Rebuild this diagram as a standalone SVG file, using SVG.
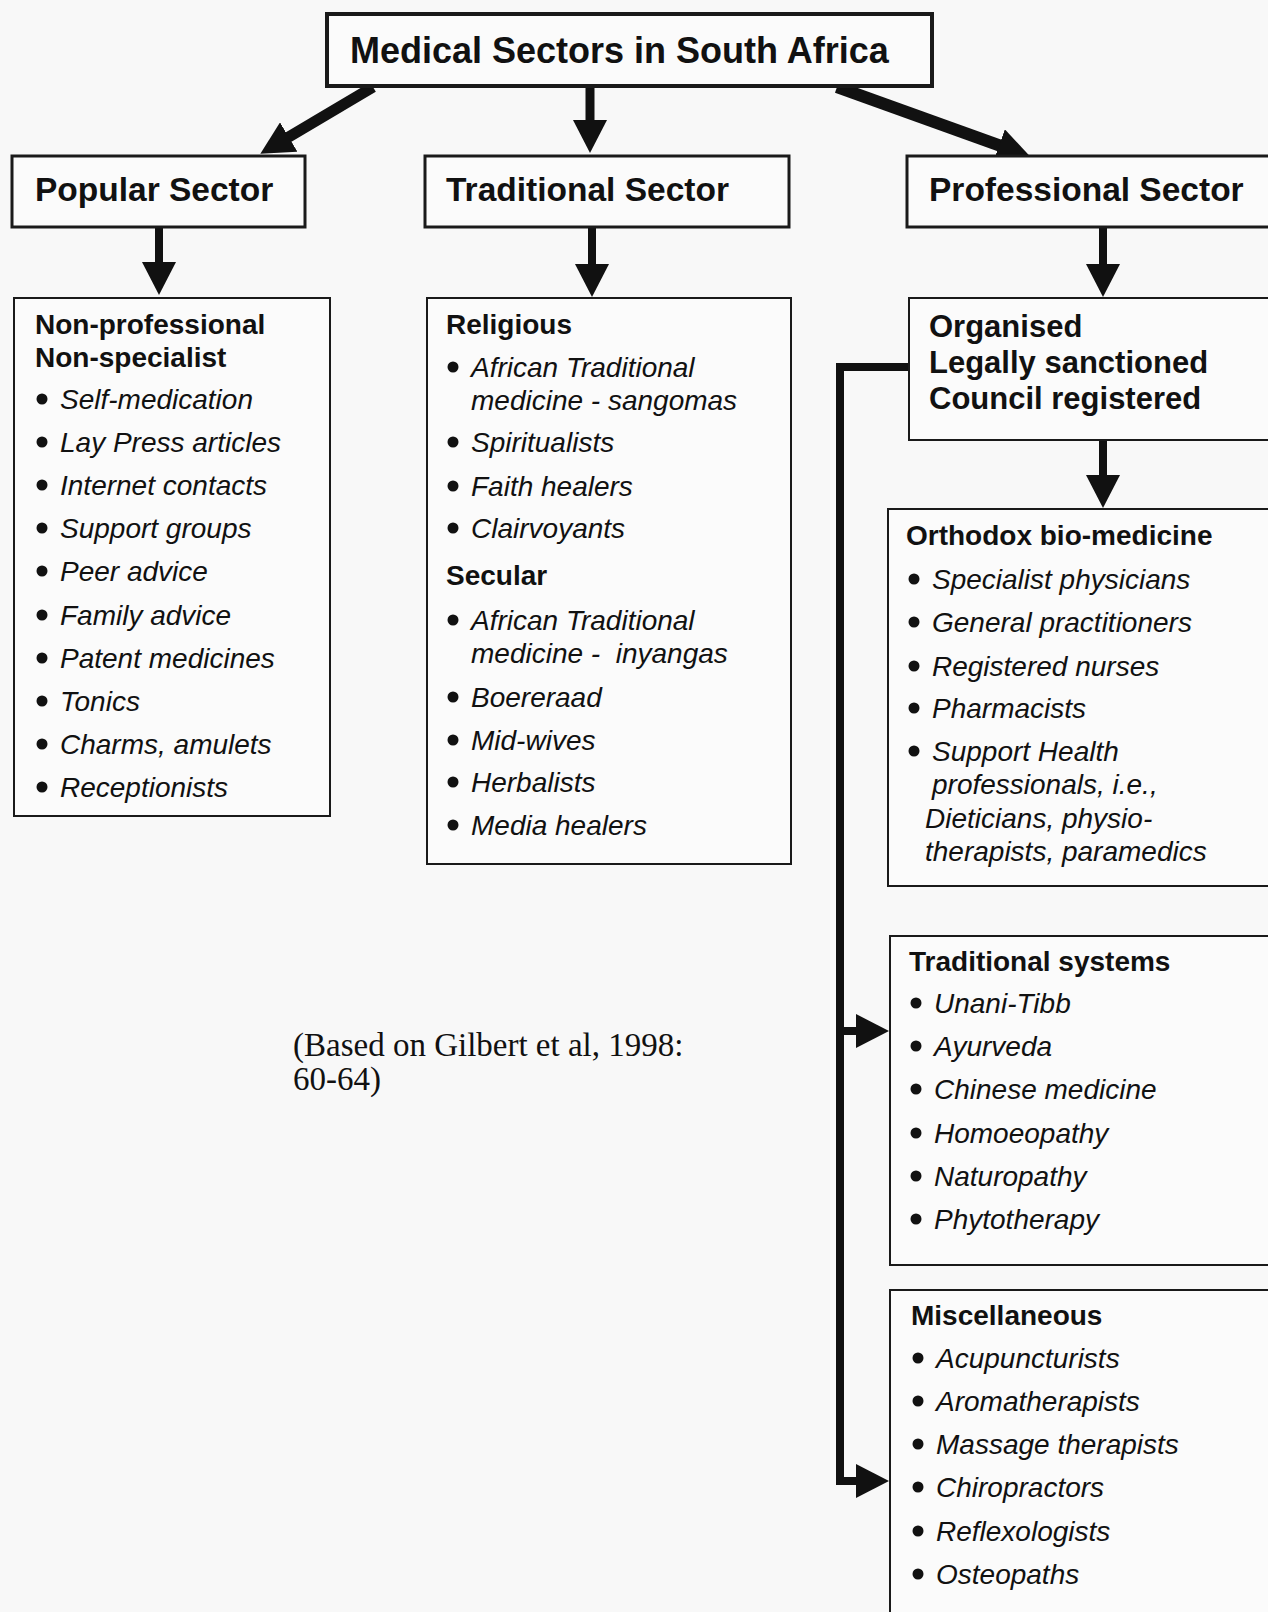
<svg xmlns="http://www.w3.org/2000/svg" width="1268" height="1612" viewBox="0 0 1268 1612">
<style>
.bg{fill:#f8f8f8}
.box{fill:#fbfbfb;stroke:#1a1a1a}
.b4{stroke-width:4}
.b3{stroke-width:3}
.b2{stroke-width:2}
text{font-family:"Liberation Sans",Arial,sans-serif;fill:#111}
.title{font-size:36px;font-weight:bold}
.sec{font-size:33.5px;font-weight:bold}
.h{font-size:28px;font-weight:bold}
.h31{font-size:31px;font-weight:bold}
.i{font-size:28px;font-style:italic}
.cite{font-family:"Liberation Serif","Times New Roman",serif;font-size:33px}
.dot{fill:#111}
.conn{fill:none;stroke:#111;stroke-linejoin:miter}
</style>
<defs>
<marker id="ah" markerUnits="userSpaceOnUse" markerWidth="34" markerHeight="34" refX="2" refY="17" orient="auto">
<path d="M0,0 L33,17 L0,34 z" fill="#111"/>
</marker>
</defs>
<rect class="bg" x="0" y="0" width="1268" height="1612"/>

<g id="connectors">
<path class="conn" stroke-width="11" d="M373,87 L287,138" marker-end="url(#ah)"/>
<path class="conn" stroke-width="9" d="M590,86 L590,122" marker-end="url(#ah)"/>
<path class="conn" stroke-width="12" d="M837,87 L1001,146" marker-end="url(#ah)"/>
<path class="conn" stroke-width="8" d="M159,227 L159,264" marker-end="url(#ah)"/>
<path class="conn" stroke-width="8" d="M592,227 L592,266" marker-end="url(#ah)"/>
<path class="conn" stroke-width="8" d="M1103,227 L1103,266" marker-end="url(#ah)"/>
<path class="conn" stroke-width="8" d="M1103,440 L1103,477" marker-end="url(#ah)"/>
<path class="conn" stroke-width="8" d="M909,367 H840 V1481 H858" marker-end="url(#ah)"/>
<path class="conn" stroke-width="8" d="M840,1031 H858" marker-end="url(#ah)"/>
</g>

<g id="title">
<rect class="box b4" x="327" y="14" width="605" height="72"/>
<text class="title" x="350" y="63">Medical Sectors in South Africa</text>
</g>

<g id="popular-sector">
<rect class="box b3" x="12" y="156" width="293" height="71"/>
<text class="sec" x="35" y="201">Popular Sector</text>
</g>

<g id="traditional-sector">
<rect class="box b3" x="425" y="156" width="364" height="71"/>
<text class="sec" x="446" y="201">Traditional Sector</text>
</g>

<g id="professional-sector">
<rect class="box b3" x="907" y="156" width="380" height="71"/>
<text class="sec" x="929" y="201">Professional Sector</text>
</g>

<g id="popular-list">
<rect class="box b2" x="14" y="298" width="316" height="518"/>
<text class="h" x="35" y="334">Non-professional</text>
<text class="h" x="35" y="367">Non-specialist</text>
<circle class="dot" cx="42" cy="399" r="5.5"/><text class="i" x="60" y="409">Self-medication</text>
<circle class="dot" cx="42" cy="442" r="5.5"/><text class="i" x="60" y="452">Lay Press articles</text>
<circle class="dot" cx="42" cy="485" r="5.5"/><text class="i" x="60" y="495">Internet contacts</text>
<circle class="dot" cx="42" cy="528" r="5.5"/><text class="i" x="60" y="538">Support groups</text>
<circle class="dot" cx="42" cy="571" r="5.5"/><text class="i" x="60" y="581">Peer advice</text>
<circle class="dot" cx="42" cy="615" r="5.5"/><text class="i" x="60" y="625">Family advice</text>
<circle class="dot" cx="42" cy="658" r="5.5"/><text class="i" x="60" y="668">Patent medicines</text>
<circle class="dot" cx="42" cy="701" r="5.5"/><text class="i" x="60" y="711">Tonics</text>
<circle class="dot" cx="42" cy="744" r="5.5"/><text class="i" x="60" y="754">Charms, amulets</text>
<circle class="dot" cx="42" cy="787" r="5.5"/><text class="i" x="60" y="797">Receptionists</text>
</g>

<g id="traditional-list">
<rect class="box b2" x="427" y="298" width="364" height="566"/>
<text class="h" x="446" y="334">Religious</text>
<circle class="dot" cx="453" cy="367" r="5.5"/><text class="i" x="471" y="377">African Traditional</text>
<text class="i" x="471" y="410">medicine - sangomas</text>
<circle class="dot" cx="453" cy="442" r="5.5"/><text class="i" x="471" y="452">Spiritualists</text>
<circle class="dot" cx="453" cy="486" r="5.5"/><text class="i" x="471" y="496">Faith healers</text>
<circle class="dot" cx="453" cy="528" r="5.5"/><text class="i" x="471" y="538">Clairvoyants</text>
<text class="h" x="446" y="585">Secular</text>
<circle class="dot" cx="453" cy="620" r="5.5"/><text class="i" x="471" y="630">African Traditional</text>
<text class="i" x="471" y="663" style="white-space:pre">medicine -  inyangas</text>
<circle class="dot" cx="453" cy="697" r="5.5"/><text class="i" x="471" y="707">Boereraad</text>
<circle class="dot" cx="453" cy="740" r="5.5"/><text class="i" x="471" y="750">Mid-wives</text>
<circle class="dot" cx="453" cy="782" r="5.5"/><text class="i" x="471" y="792">Herbalists</text>
<circle class="dot" cx="453" cy="825" r="5.5"/><text class="i" x="471" y="835">Media healers</text>
</g>

<g id="organised">
<rect class="box b2" x="909" y="298" width="380" height="142"/>
<text class="h31" x="929" y="337">Organised</text>
<text class="h31" x="929" y="373">Legally sanctioned</text>
<text class="h31" x="929" y="409">Council registered</text>
</g>

<g id="orthodox">
<rect class="box b2" x="888" y="509" width="400" height="377"/>
<text class="h" x="906" y="545">Orthodox bio-medicine</text>
<circle class="dot" cx="914" cy="579" r="5.5"/><text class="i" x="932" y="589">Specialist physicians</text>
<circle class="dot" cx="914" cy="622" r="5.5"/><text class="i" x="932" y="632">General practitioners</text>
<circle class="dot" cx="914" cy="666" r="5.5"/><text class="i" x="932" y="676">Registered nurses</text>
<circle class="dot" cx="914" cy="708" r="5.5"/><text class="i" x="932" y="718">Pharmacists</text>
<circle class="dot" cx="914" cy="751" r="5.5"/><text class="i" x="932" y="761">Support Health</text>
<text class="i" x="932" y="794">professionals, i.e.,</text>
<text class="i" x="925" y="828">Dieticians, physio-</text>
<text class="i" x="925" y="861">therapists, paramedics</text>
</g>

<g id="traditional-systems">
<rect class="box b2" x="890" y="936" width="400" height="329"/>
<text class="h" x="909" y="971">Traditional systems</text>
<circle class="dot" cx="916" cy="1003" r="5.5"/><text class="i" x="934" y="1013">Unani-Tibb</text>
<circle class="dot" cx="916" cy="1046" r="5.5"/><text class="i" x="934" y="1056">Ayurveda</text>
<circle class="dot" cx="916" cy="1089" r="5.5"/><text class="i" x="934" y="1099">Chinese medicine</text>
<circle class="dot" cx="916" cy="1133" r="5.5"/><text class="i" x="934" y="1143">Homoeopathy</text>
<circle class="dot" cx="916" cy="1176" r="5.5"/><text class="i" x="934" y="1186">Naturopathy</text>
<circle class="dot" cx="916" cy="1219" r="5.5"/><text class="i" x="934" y="1229">Phytotherapy</text>
</g>

<g id="miscellaneous">
<rect class="box b2" x="890" y="1290" width="400" height="340"/>
<text class="h" x="911" y="1325">Miscellaneous</text>
<circle class="dot" cx="918" cy="1358" r="5.5"/><text class="i" x="936" y="1368">Acupuncturists</text>
<circle class="dot" cx="918" cy="1401" r="5.5"/><text class="i" x="936" y="1411">Aromatherapists</text>
<circle class="dot" cx="918" cy="1444" r="5.5"/><text class="i" x="936" y="1454">Massage therapists</text>
<circle class="dot" cx="918" cy="1487" r="5.5"/><text class="i" x="936" y="1497">Chiropractors</text>
<circle class="dot" cx="918" cy="1531" r="5.5"/><text class="i" x="936" y="1541">Reflexologists</text>
<circle class="dot" cx="918" cy="1574" r="5.5"/><text class="i" x="936" y="1584">Osteopaths</text>
</g>

<g id="citation">
<text class="cite" x="293" y="1056">(Based on Gilbert et al, 1998:</text>
<text class="cite" x="293" y="1090">60-64)</text>
</g>
</svg>
